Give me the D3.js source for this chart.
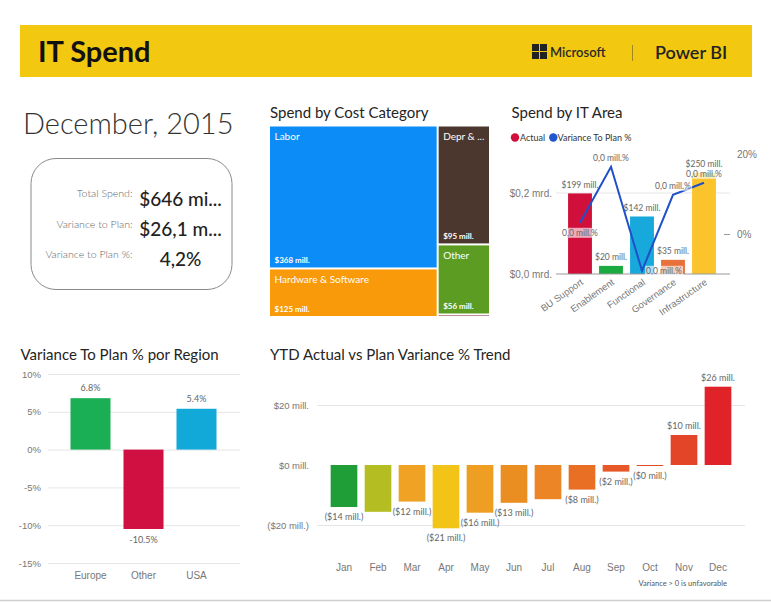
<!DOCTYPE html>
<html><head><meta charset="utf-8">
<script src="https://cdn.jsdelivr.net/npm/d3@7"></script>
<style>
body{margin:0;background:#fff;}
svg{display:block;font-family:Lato,"Segoe UI","Open Sans",sans-serif;}
</style></head><body>
<svg id="c" width="771" height="602"></svg>
<script>
// ---------- data ----------
const headerTitle = "IT Spend";
const periodLabel = "December, 2015";
const kpiLabels = ["Total Spend:", "Variance to Plan:", "Variance to Plan %:"];
const kpiValues = ["$646 mi...", "$26,1 m...", "4,2%"];

const costCategories = ["Labor", "Hardware & Software", "Depr & Amortization", "Other", "Misc"];
const costGroups = ["Direct", "Direct", "Indirect", "Indirect", "Indirect"];
const costValues = [368, 125, 95, 56, 2];

const itAreas = ["BU Support", "Enablement", "Functional", "Governance", "Infrastructure"];
const itActual = [199, 20, 142, 35, 250];            // $ mill.
const itVariancePct = [2.8, 16.8, -9.2, 9.8, 12.8];    // %
const itVarianceLabels = ["0,0 mill.%", "0,0 mill.%", "0,0 mill.%", "0,0 mill.%", "0,0 mill.%"];
const itLegend = ["Actual", "Variance To Plan %"];

const regions = ["Europe", "Other", "USA"];
const regionVariance = [6.8, -10.5, 5.4];
const regionTicks = [-15, -10, -5, 0, 5, 10];

const months = ["Jan","Feb","Mar","Apr","May","Jun","Jul","Aug","Sep","Oct","Nov","Dec"];
const trendValues = [-14, -15.6, -12.2, -21.1, -15.9, -12.6, -11.4, -8.2, -2.2, -0.2, 10, 26.1];
const trendHiddenLabels = ["Feb", "Jul"];
const trendTicks = [-20, 0, 20];
const trendNote = "Variance > 0 is unfavorable";

// ---------- palettes ----------
const costColors = ["#0B8CF7", "#F99A0A", "#4B372E", "#5C9C22", "#7B1B2C"];
const itColors = ["#D0103A", "#1AAB40", "#17A9DC", "#E8703A", "#FCC42C"];
const lineColor = "#2050C8";
const regionColors = ["#1AAF54", "#D01040", "#12A9D8"];
const trendColors = ["#1F9E37","#B4BE22","#EFA223","#F2C417","#EE9E22","#EB8E22","#EC8526","#E86F24","#E65828","#E24B24","#E34528","#DF2328"];

const svg = d3.select("#c");
const titleColor = "#252423", tickColor = "#777", labelColor = "#666", gridColor = "#e6e6e6";

// ---------- header ----------
svg.append("rect").attr("x", 20).attr("y", 25).attr("width", 732).attr("height", 52).attr("fill", "#F2C811");
svg.append("text").attr("x", 38).attr("y", 62).attr("font-size", 29).attr("font-weight", 700).attr("fill", "#111").text(headerTitle);
[[0,0],[1,0],[0,1],[1,1]].forEach(([i,j]) => {
  svg.append("rect").attr("x", 532 + i*8).attr("y", 44 + j*8).attr("width", 7).attr("height", 7).attr("fill", "#222");
});
svg.append("text").attr("x", 550).attr("y", 57).attr("font-size", 13).attr("font-weight", 600).attr("fill", "#2a2a2a").text("Microsoft");
svg.append("line").attr("x1", 632.5).attr("x2", 632.5).attr("y1", 45).attr("y2", 61).attr("stroke", "#a08a20").attr("stroke-width", 1);
svg.append("text").attr("x", 655).attr("y", 58.5).attr("font-size", 18).attr("font-weight", 600).attr("fill", "#222").text("Power BI");

// ---------- period + KPI card ----------
svg.append("text").attr("x", 23).attr("y", 133.5).attr("font-size", 29).attr("font-weight", 300).attr("fill", "#333").text(periodLabel);
svg.append("rect").attr("x", 31).attr("y", 158.5).attr("width", 201).attr("height", 131).attr("rx", 25).attr("ry", 25)
  .attr("fill", "none").attr("stroke", "#8a8a8a").attr("stroke-width", 1);
const kpiLabelY = [197, 228, 258];
const kpiValueY = [206, 235.5, 266];
kpiLabels.forEach((l, i) => {
  svg.append("text").attr("x", 132.5).attr("y", kpiLabelY[i]).attr("text-anchor", "end").attr("font-size", 10.6)
    .attr("font-weight", 300).attr("fill", "#666").text(l);
  svg.append("text").attr("x", 180.5).attr("y", kpiValueY[i]).attr("text-anchor", "middle").attr("font-size", 19)
    .attr("font-weight", 500).attr("fill", "#222").text(kpiValues[i]);
});

// ---------- treemap ----------
svg.append("text").attr("x", 270).attr("y", 118).attr("font-size", 15).attr("fill", titleColor).text("Spend by Cost Category");
const groupNames = Array.from(new Set(costGroups));
const treeData = {name: "root", children: groupNames.map(g => ({
  name: g,
  children: costCategories.map((c, i) => ({name: c, value: costValues[i], color: costColors[i], group: costGroups[i]})).filter(d => d.group === g)
}))};
const root = d3.hierarchy(treeData).sum(d => d.value || 0);
d3.treemap().tile(d3.treemapSliceDice).size([219, 189.5]).paddingInner(2)(root);
const tm = svg.append("g").attr("transform", "translate(270,126.5)");
const fmtMill = v => `$${Math.round(v)} mill.`;
root.leaves().forEach(n => {
  const w = n.x1 - n.x0, h = n.y1 - n.y0;
  tm.append("rect").attr("x", n.x0).attr("y", n.y0).attr("width", w).attr("height", h).attr("fill", n.data.color);
  if (h > 20) {
    const t = tm.append("text").attr("x", n.x0 + 4.5).attr("y", n.y0 + 13.5).attr("font-size", 10).attr("fill", "#fff").text(n.data.name);
    let s = n.data.name;
    while (t.node().getComputedTextLength() > w - 8 && s.length > 1) {
      s = s.slice(0, -1);
      t.text(s.trimEnd() + " ...");
    }
    tm.append("text").attr("x", n.x0 + 4.5).attr("y", n.y1 - 4).attr("font-size", 8).attr("font-weight", 700).attr("fill", "#fff").text(fmtMill(n.value));
  }
});

// ---------- Spend by IT Area ----------
svg.append("text").attr("x", 511.5).attr("y", 118).attr("font-size", 15).attr("fill", titleColor).text("Spend by IT Area");
const legG = svg.append("g");
legG.append("circle").attr("cx", 515).attr("cy", 137.5).attr("r", 4.2).attr("fill", itColors[0]);
legG.append("text").attr("x", 520).attr("y", 140.8).attr("font-size", 9).attr("fill", "#333").text(itLegend[0]);
legG.append("circle").attr("cx", 553.3).attr("cy", 137.5).attr("r", 4.2).attr("fill", "#1F56D0");
legG.append("text").attr("x", 557.5).attr("y", 140.8).attr("font-size", 9).attr("fill", "#333").text(itLegend[1]);

const xIT = d3.scaleBand().domain(itAreas).range([564.5, 719.5]).paddingInner(0.23).paddingOuter(0.115);
const yIT = d3.scaleLinear().domain([0, 200]).range([274, 193]);
const yITp = d3.scaleLinear().domain([0, 20]).range([234, 154]);

svg.append("line").attr("x1", 556).attr("x2", 730).attr("y1", yIT(200)).attr("y2", yIT(200)).attr("stroke", gridColor);
const axL = svg.append("g").attr("transform", "translate(556,0)")
  .call(d3.axisLeft(yIT).tickValues([0, 200]).tickSize(0).tickPadding(4)
    .tickFormat(v => `$${(v/1000).toFixed(1).replace(".", ",")} mrd.`));
axL.select(".domain").remove();
axL.selectAll("text").attr("font-size", 10).attr("fill", tickColor).attr("font-family", null);

const axR = svg.append("g").attr("transform", "translate(724,0)")
  .call(d3.axisRight(yITp).tickValues([0, 20]).tickSize(6).tickPadding(7).tickFormat(v => `${v}%`));
axR.select(".domain").remove();
axR.selectAll("line").attr("stroke", "#999").attr("stroke-opacity", (d) => d === 0 ? 1 : 0);
axR.selectAll("text").attr("font-size", 10).attr("fill", tickColor).attr("font-family", null);

svg.selectAll(".itbar").data(itAreas).join("rect").attr("class", "itbar")
  .attr("x", d => xIT(d)).attr("width", xIT.bandwidth())
  .attr("y", (d, i) => yIT(itActual[i])).attr("height", (d, i) => yIT(0) - yIT(itActual[i]))
  .attr("fill", (d, i) => itColors[i]);
svg.append("line").attr("x1", 556).attr("x2", 730).attr("y1", yIT(0)).attr("y2", yIT(0)).attr("stroke", "#999");

const axB = svg.append("g").attr("transform", `translate(0,${yIT(0)})`)
  .call(d3.axisBottom(xIT).tickSize(0).tickPadding(0));
axB.select(".domain").remove();
axB.selectAll("text").attr("font-size", 9.5).attr("fill", tickColor).attr("font-family", null)
  .attr("text-anchor", "end").attr("dy", "0.35em")
  .attr("transform", `translate(2,7) rotate(-35)`);

svg.selectAll(".itlab").data(itAreas).join("text").attr("class", "itlab")
  .attr("x", d => xIT(d) + xIT.bandwidth()/2).attr("y", (d, i) => yIT(itActual[i]) - 5.5)
  .attr("text-anchor", "middle").attr("font-size", 8.5).attr("fill", labelColor)
  .text((d, i) => fmtMill(itActual[i]));

const linePts = itAreas.map((a, i) => [xIT(a) + xIT.bandwidth()/2, yITp(itVariancePct[i])]);
svg.append("path").attr("d", d3.line()(linePts)).attr("fill", "none").attr("stroke", lineColor).attr("stroke-width", 2);

// variance labels: placement relative to point
const varPos = [[0, 13], [0, -6], [22, 3], [0, -6], [0, -6]];
linePts.forEach((p, i) => {
  const g = svg.append("g");
  const t = g.append("text").attr("x", p[0] + varPos[i][0]).attr("y", p[1] + varPos[i][1])
    .attr("text-anchor", "middle").attr("font-size", 8.5).attr("fill", labelColor).text(itVarianceLabels[i]);
  const bb = t.node().getBBox();
  g.insert("rect", "text").attr("x", bb.x - 1).attr("y", bb.y).attr("width", bb.width + 2).attr("height", bb.height)
    .attr("fill", "#fff").attr("fill-opacity", 0.65);
});

// ---------- Variance by Region ----------
svg.append("text").attr("x", 20.5).attr("y", 360).attr("font-size", 15).attr("fill", titleColor).text("Variance To Plan % por Region");
const xR = d3.scaleBand().domain(regions).range([64, 223]).paddingInner(0.245).paddingOuter(0.1225);
const yR = d3.scaleLinear().domain([-15, 10]).range([563, 374]);
const gridR = svg.append("g").attr("transform", "translate(48,0)")
  .call(d3.axisLeft(yR).tickValues(regionTicks).tickSize(-192).tickPadding(7).tickFormat(v => `${v}%`));
gridR.select(".domain").remove();
gridR.selectAll("line").attr("stroke", gridColor);
gridR.selectAll("text").attr("font-size", 9.5).attr("fill", tickColor).attr("font-family", null);
svg.selectAll(".rbar").data(regions).join("rect").attr("class", "rbar")
  .attr("x", d => xR(d)).attr("width", xR.bandwidth())
  .attr("y", (d, i) => yR(Math.max(0, regionVariance[i])))
  .attr("height", (d, i) => Math.abs(yR(regionVariance[i]) - yR(0)))
  .attr("fill", (d, i) => regionColors[i]);
svg.selectAll(".rlab").data(regions).join("text").attr("class", "rlab")
  .attr("x", d => xR(d) + xR.bandwidth()/2)
  .attr("y", (d, i) => regionVariance[i] >= 0 ? yR(regionVariance[i]) - 7 : yR(regionVariance[i]) + 14)
  .attr("text-anchor", "middle").attr("font-size", 9).attr("fill", labelColor)
  .text((d, i) => `${regionVariance[i].toFixed(1)}%`);
const axRB = svg.append("g").attr("transform", "translate(0,563)")
  .call(d3.axisBottom(xR).tickSize(0).tickPadding(9));
axRB.select(".domain").remove();
axRB.selectAll("text").attr("font-size", 10).attr("fill", tickColor).attr("font-family", null);

// ---------- YTD Trend ----------
svg.append("text").attr("x", 270).attr("y", 360).attr("font-size", 15).attr("fill", titleColor).text("YTD Actual vs Plan Variance % Trend");
const xT = d3.scaleBand().domain(months).range([327, 735]).paddingInner(0.215).paddingOuter(0.1075);
const yT = d3.scaleLinear().domain([-20, 20]).range([525, 405]);
const fmtT = v => { const r = Math.abs(Math.round(v)); return v < 0 ? `($${r} mill.)` : `$${r} mill.`; };
const gridT = svg.append("g").attr("transform", "translate(317,0)")
  .call(d3.axisLeft(yT).tickValues(trendTicks).tickSize(-428).tickPadding(8).tickFormat(fmtT));
gridT.select(".domain").remove();
gridT.selectAll("line").attr("stroke", gridColor).attr("stroke-opacity", d => d === 0 ? 0 : 1);
gridT.selectAll("text").attr("font-size", 9.5).attr("fill", tickColor).attr("font-family", null);
svg.selectAll(".tbar").data(months).join("rect").attr("class", "tbar")
  .attr("x", d => xT(d)).attr("width", xT.bandwidth())
  .attr("y", (d, i) => yT(Math.max(0, trendValues[i])))
  .attr("height", (d, i) => Math.max(1, Math.abs(yT(trendValues[i]) - yT(0))))
  .attr("fill", (d, i) => trendColors[i]);
svg.selectAll(".tlab").data(months).join("text").attr("class", "tlab")
  .attr("x", d => xT(d) + xT.bandwidth()/2)
  .attr("y", (d, i) => trendValues[i] >= 0 ? yT(trendValues[i]) - 6 : yT(trendValues[i]) + 13)
  .attr("text-anchor", "middle").attr("font-size", 9).attr("fill", labelColor)
  .text((d, i) => trendHiddenLabels.includes(d) ? "" : fmtT(trendValues[i]));
const axTB = svg.append("g").attr("transform", "translate(0,555)")
  .call(d3.axisBottom(xT).tickSize(0).tickPadding(9));
axTB.select(".domain").remove();
axTB.selectAll("text").attr("font-size", 10).attr("fill", tickColor).attr("font-family", null);
svg.append("text").attr("x", 727).attr("y", 586).attr("text-anchor", "end").attr("font-size", 7.5).attr("fill", "#555").text(trendNote);

// bottom border
svg.append("line").attr("x1", 0).attr("x2", 771).attr("y1", 600.5).attr("y2", 600.5).attr("stroke", "#cfcfcf").attr("stroke-width", 1.5);
</script>
</body></html>
